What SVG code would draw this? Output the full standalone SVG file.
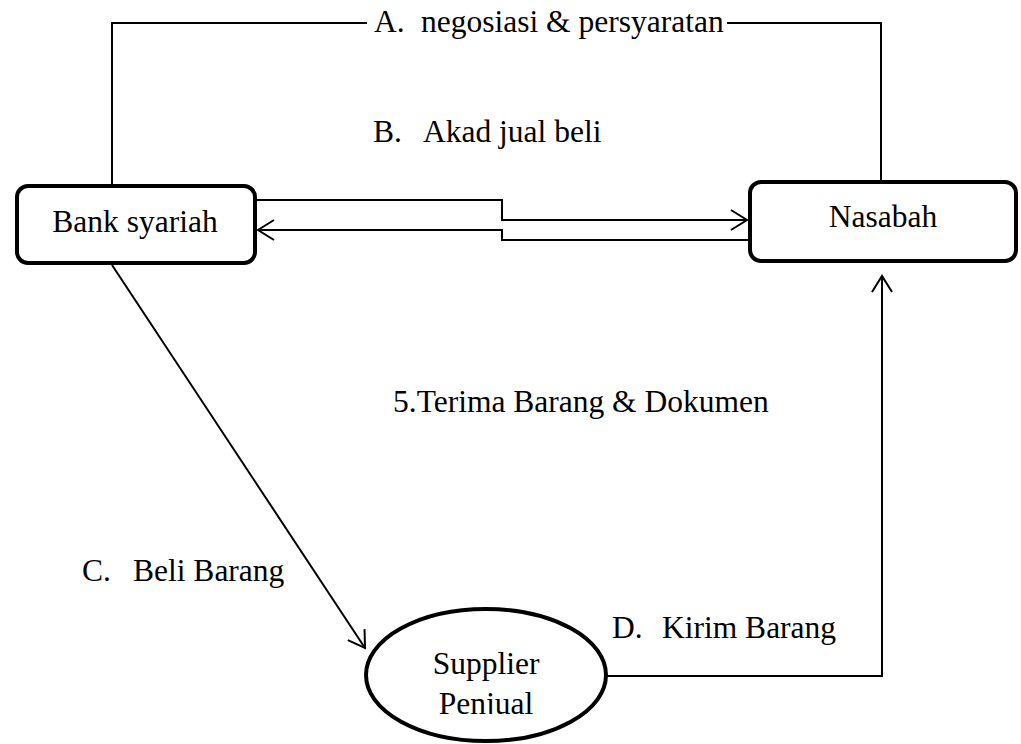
<svg xmlns="http://www.w3.org/2000/svg" width="1021" height="744" viewBox="0 0 1021 744" font-family="'Liberation Serif', 'Times New Roman', 'DejaVu Serif', serif">
<style>
text{font-family:'Liberation Serif','Times New Roman','DejaVu Serif',serif;font-size:31.5px;fill:#000}
.box{fill:#fff;stroke:#000;stroke-width:4}
.ln{fill:none;stroke:#000;stroke-width:2}
.mid{text-anchor:middle}
</style>
<defs>
<marker id="arr" markerUnits="userSpaceOnUse" markerWidth="24" markerHeight="24" viewBox="-20 -12 24 24" refX="0" refY="0" orient="auto" overflow="visible">
<path d="M-16,-10 L0,0 L-16,10" fill="none" stroke="#000" stroke-width="2"/>
</marker>
<clipPath id="clipP"><rect x="0" y="0" width="1021" height="714"/></clipPath>
</defs>
<rect width="1021" height="744" fill="#fff"/>
<g id="connectors">
<path class="ln" d="M112,184 V23 H367"/>
<path class="ln" d="M727,23 H881 V182"/>
<path class="ln" d="M257,200 H502 V220 H747" marker-end="url(#arr)"/>
<path class="ln" d="M748,240 H502 V230 H258" marker-end="url(#arr)"/>
<path class="ln" d="M112,265 L365,648" marker-end="url(#arr)"/>
<path class="ln" d="M607,676 H882 V276" marker-end="url(#arr)"/>
</g>
<g id="labels">
<text><tspan x="374" y="32">A.</tspan><tspan x="421" y="32">negosiasi &amp; persyaratan</tspan></text>
<text><tspan x="373" y="142">B.</tspan><tspan x="423" y="142">Akad jual beli</tspan></text>
<text x="393" y="412">5.Terima Barang &amp; Dokumen</text>
<text><tspan x="82" y="581">C.</tspan><tspan x="133" y="581">Beli Barang</tspan></text>
<text><tspan x="612" y="638">D.</tspan><tspan x="662" y="638">Kirim Barang</tspan></text>
</g>
<g id="bank">
<rect class="box" x="17" y="186" width="238" height="77" rx="11"/>
<text class="mid" x="135" y="232">Bank syariah</text>
</g>
<g id="nasabah">
<rect class="box" x="750" y="182" width="266" height="79" rx="11"/>
<text class="mid" x="883" y="227">Nasabah</text>
</g>
<g id="supplier">
<ellipse class="box" cx="486" cy="675" rx="120" ry="66"/>
<text class="mid" x="486" y="674">Supplier</text>
<text class="mid" x="486" y="714" clip-path="url(#clipP)">Penjual</text>
</g>
</svg>
